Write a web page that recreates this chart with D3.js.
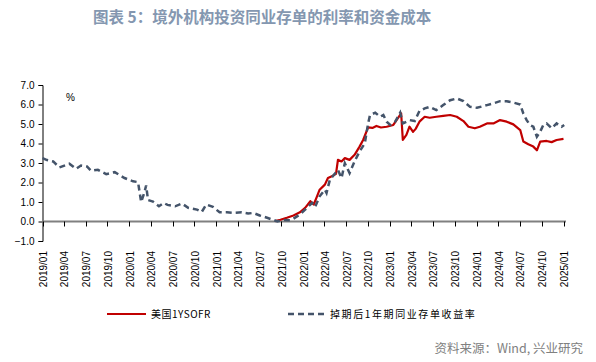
<!DOCTYPE html>
<html>
<head>
<meta charset="utf-8">
<script src="https://cdn.jsdelivr.net/npm/d3@7"></script>
<style>
body { margin: 0; background: #fff; }
svg { display: block; }
</style>
</head>
<body>
<div id="chart"></div>
<script>
// series: swap-adjusted 1Y NCD yield (dashed) and US 1Y SOFR (red)
var ncdDates = ['2019-01-01','2019-01-20','2019-02-15','2019-03-13','2019-04-24','2019-05-22','2019-06-12','2019-07-07','2019-07-24','2019-08-22','2019-09-26','2019-11-01','2019-12-12','2020-01-17','2020-02-07','2020-02-20','2020-03-05','2020-03-12','2020-03-20','2020-04-10','2020-05-05','2020-05-25','2020-06-10','2020-07-12','2020-08-10','2020-09-05','2020-10-12','2020-11-01','2020-11-20','2020-12-18','2021-01-15','2021-02-15','2021-03-12','2021-04-18','2021-05-15','2021-06-06','2021-07-03','2021-08-03','2021-09-01','2021-09-15','2021-10-12','2021-11-08','2021-11-21','2021-12-19','2022-01-10','2022-02-08','2022-02-21','2022-03-12','2022-04-03','2022-04-10','2022-04-24','2022-05-28','2022-06-12','2022-06-26','2022-07-16','2022-08-06','2022-08-27','2022-09-18','2022-10-02','2022-10-10','2022-11-01','2022-11-21','2022-12-05','2022-12-19','2023-01-03','2023-01-24','2023-02-14','2023-02-25','2023-03-26','2023-04-16','2023-05-06','2023-05-28','2023-06-18','2023-07-16','2023-08-14','2023-09-12','2023-10-10','2023-11-07','2023-12-05','2024-01-03','2024-02-14','2024-03-12','2024-04-09','2024-05-07','2024-06-04','2024-07-03','2024-07-16','2024-07-30','2024-08-13','2024-08-27','2024-09-11','2024-09-25','2024-10-08','2024-10-22','2024-11-12','2024-12-03','2024-12-24','2025-01-04'];
var ncdValues = [3.25,3.15,3.08,2.77,2.96,2.70,2.87,2.82,2.60,2.65,2.43,2.53,2.23,2.06,2.02,1.00,1.50,1.85,1.10,1.02,0.78,0.95,0.85,0.78,0.92,0.70,0.61,0.49,0.87,0.75,0.47,0.47,0.44,0.47,0.41,0.44,0.31,0.19,0.07,0.00,0.08,0.07,0.14,0.36,0.61,0.95,0.75,1.29,1.63,1.46,2.14,2.65,2.23,2.99,2.48,3.08,3.59,4.01,5.03,5.46,5.58,5.37,5.46,5.12,4.95,5.12,5.58,5.03,5.20,5.15,5.67,5.80,5.88,5.71,5.97,6.22,6.31,6.17,5.88,5.83,5.97,6.06,6.17,6.17,6.10,6.00,5.54,5.20,4.95,4.86,4.35,4.61,4.95,5.03,4.78,5.03,4.86,4.95];

var sofrDates = ['2021-09-06','2021-09-28','2021-10-25','2021-11-22','2021-12-19','2022-01-10','2022-02-01','2022-02-15','2022-03-01','2022-03-12','2022-04-03','2022-04-16','2022-05-07','2022-05-20','2022-05-28','2022-06-12','2022-06-26','2022-07-16','2022-08-06','2022-08-27','2022-09-11','2022-10-02','2022-10-20','2022-11-06','2022-11-25','2022-12-19','2023-01-16','2023-02-18','2023-02-25','2023-03-12','2023-03-25','2023-04-09','2023-04-20','2023-05-06','2023-05-28','2023-06-18','2023-07-16','2023-08-14','2023-09-12','2023-10-10','2023-11-07','2023-11-28','2023-12-25','2024-01-15','2024-02-14','2024-03-12','2024-04-09','2024-05-07','2024-06-04','2024-07-03','2024-07-16','2024-08-06','2024-08-27','2024-09-11','2024-09-25','2024-10-22','2024-11-12','2024-12-03','2025-01-01'];
var sofrValues = [0.02,0.09,0.19,0.31,0.47,0.70,1.04,0.87,1.29,1.63,1.89,2.23,2.35,2.45,3.16,3.08,3.25,3.16,3.42,3.84,4.18,4.83,4.80,4.90,4.82,4.86,4.95,5.54,4.18,4.44,4.86,4.60,4.75,5.12,5.37,5.32,5.37,5.42,5.46,5.37,5.15,4.86,4.78,4.86,5.03,5.03,5.20,5.12,4.98,4.69,4.10,3.96,3.84,3.65,4.10,4.13,4.07,4.18,4.24];

var yTicks = [-1, 0, 1, 2, 3, 4, 5, 6, 7];
var seriesNames = ['美国1YSOFR', '掉期后1年期同业存单收益率'];

var width = 596, height = 362;
var parse = d3.timeParse('%Y-%m-%d');

var ncd = ncdDates.map(function(d, i) { return { date: parse(d), value: ncdValues[i] }; });
var sofr = sofrDates.map(function(d, i) { return { date: parse(d), value: sofrValues[i] }; });

var svg = d3.select('#chart').append('svg')
    .attr('width', width)
    .attr('height', height);

// Title
svg.append('text')
    .attr('x', 93)
    .attr('y', 23)
    .attr('fill', '#8497b0')
    .attr('font-family', 'Noto Sans CJK SC')
    .attr('font-weight', 'bold')
    .attr('font-size', '15.5px')
    .text('图表 5：境外机构投资同业存单的利率和资金成本');

var x = d3.scaleTime()
    .domain([parse('2019-01-01'), parse('2025-01-01')])
    .range([42.5, 563.5]);

var y = d3.scaleLinear()
    .domain([-1, 7])
    .range([241, 85]);

// Y axis
var yAxis = svg.append('g')
    .attr('transform', 'translate(42.5,0)')
    .call(d3.axisLeft(y).tickValues(yTicks).tickSize(4).tickPadding(4).tickFormat(d3.format('.1f')));
yAxis.select('.domain').attr('stroke', '#000');
yAxis.selectAll('.tick line').attr('stroke', '#000');
yAxis.selectAll('text')
    .attr('font-family', 'Liberation Sans, Arial')
    .attr('font-size', '10px')
    .attr('fill', '#000');

svg.append('text')
    .attr('x', 66)
    .attr('y', 101)
    .attr('font-family', 'Liberation Sans, Arial')
    .attr('font-size', '10px')
    .text('%');

// zero line with quarter ticks
var qTicks = x.ticks(d3.timeMonth.every(3));
svg.append('line')
    .attr('x1', 42.5)
    .attr('x2', 566)
    .attr('y1', y(0))
    .attr('y2', y(0))
    .attr('stroke', '#808080')
    .attr('stroke-width', 2);

svg.append('g')
    .selectAll('line')
    .data(qTicks)
    .enter()
    .append('line')
    .attr('x1', function(d) { return Math.round(x(d)) + 0.5; })
    .attr('x2', function(d) { return Math.round(x(d)) + 0.5; })
    .attr('y1', y(0))
    .attr('y2', y(0) + 5)
    .attr('stroke', '#000');

svg.append('g')
    .selectAll('text')
    .data(qTicks)
    .enter()
    .append('text')
    .attr('transform', function(d) { return 'translate(' + (x(d) + 4.5) + ',251) rotate(-90)'; })
    .attr('text-anchor', 'end')
    .attr('font-family', 'Liberation Sans, Arial')
    .attr('font-size', '10px')
    .attr('fill', '#000')
    .text(d3.timeFormat('%Y/%m'));

var line = d3.line()
    .x(function(d) { return x(d.date); })
    .y(function(d) { return y(d.value); });

svg.append('path')
    .datum(sofr)
    .attr('d', line)
    .attr('fill', 'none')
    .attr('stroke', '#c00000')
    .attr('stroke-width', 2.2)
    .attr('stroke-linejoin', 'round');

svg.append('path')
    .datum(ncd)
    .attr('d', line)
    .attr('fill', 'none')
    .attr('stroke', '#44546a')
    .attr('stroke-width', 2.5)
    .attr('stroke-dasharray', '6,4');

// Legend
var legend = svg.append('g');
legend.append('line')
    .attr('x1', 107).attr('x2', 146)
    .attr('y1', 314).attr('y2', 314)
    .attr('stroke', '#c00000')
    .attr('stroke-width', 2.2);
legend.append('text')
    .attr('x', 151).attr('y', 318)
    .attr('font-family', 'Noto Sans CJK SC')
    .attr('font-size', '10px')
    .attr('letter-spacing', '0.5px')
    .text(seriesNames[0]);
legend.append('line')
    .attr('x1', 288).attr('x2', 327)
    .attr('y1', 314).attr('y2', 314)
    .attr('stroke', '#44546a')
    .attr('stroke-width', 2.5)
    .attr('stroke-dasharray', '6,4');
legend.append('text')
    .attr('x', 330).attr('y', 318)
    .attr('font-family', 'Noto Sans CJK SC')
    .attr('font-size', '10px')
    .attr('letter-spacing', '1.6px')
    .text(seriesNames[1]);

// Source
svg.append('text')
    .attr('x', 583)
    .attr('y', 353)
    .attr('text-anchor', 'end')
    .attr('fill', '#808080')
    .attr('font-family', 'Noto Sans CJK SC')
    .attr('font-size', '12.5px')
    .text('资料来源：Wind, 兴业研究');
</script>
</body>
</html>
